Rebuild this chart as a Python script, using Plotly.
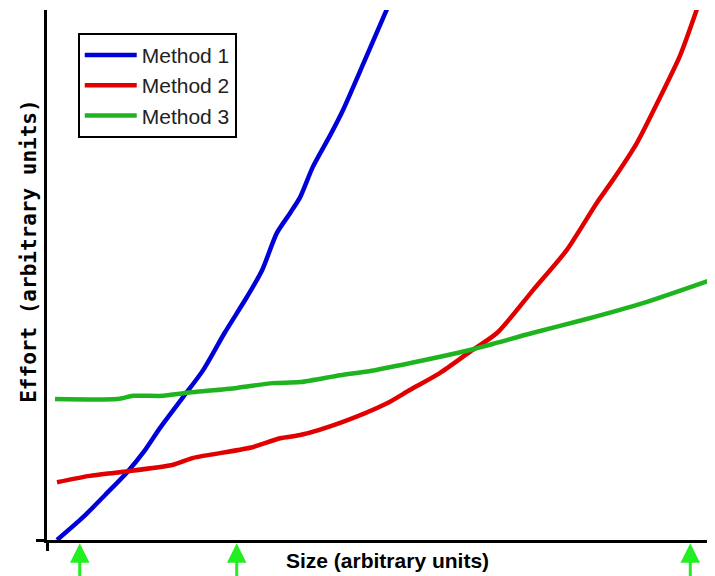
import plotly.graph_objects as go

# Data (arbitrary units)
m1_x = [1.5, 5.4, 8.7, 12.0, 14.7, 16.9, 20.4, 23.4, 26.6, 29.9, 32.2, 34.4, 36.4, 37.9, 39.8, 42.4, 44.3, 47.6, 50.9]
m1_y = [0.0, 4.3, 8.5, 12.8, 17.0, 21.1, 27.0, 32.1, 39.1, 45.8, 50.9, 57.9, 61.7, 64.7, 70.4, 76.4, 81.1, 90.6, 100.2]

m2_x = [1.5, 6.4, 10.9, 18.9, 21.9, 30.4, 34.9, 37.9, 44.3, 50.9, 54.3, 58.8, 63.3, 67.4, 72.8, 77.8, 82.3, 84.7, 88.3, 91.8, 94.8, 97.3]
m2_y = [10.9, 12.1, 12.8, 14.2, 15.5, 17.4, 19.2, 19.8, 22.3, 25.8, 28.3, 31.5, 35.5, 39.1, 47.2, 54.7, 63.6, 67.9, 74.9, 83.6, 91.5, 100.2]

m3_x = [1.2, 10.5, 12.9, 17.4, 20.4, 28.4, 33.8, 37.9, 43.9, 48.4, 57.8, 63.8, 72.8, 80.2, 89.2, 99.7]
m3_y = [26.6, 26.6, 27.2, 27.2, 27.7, 28.7, 29.6, 29.8, 31.1, 31.9, 34.3, 36.0, 39.1, 41.5, 44.7, 49.2]

series_names = ["Method 1", "Method 2", "Method 3"]
series_colors = ["#0000d8", "#e00000", "#1fb41f"]

marker_sizes = [4.9, 28.4, 96.3]   # green arrows under the x axis

x_title = "Size (arbitrary units)"
y_title = "Effort (arbitrary units)"

fig = go.Figure()
for name, xs, ys, col in zip(series_names, [m1_x, m2_x, m3_x], [m1_y, m2_y, m3_y], series_colors):
    fig.add_trace(go.Scatter(x=xs, y=ys, mode="lines", name=name, legendgroup=name,
                             line=dict(color=col, width=4.5, shape="spline", smoothing=0.7),
                             cliponaxis=True))

annotations = []
for xv in marker_sizes:
    annotations.append(dict(x=xv, xref="x", y=-0.006, yref="paper", text="", showarrow=True,
                            ax=0, ay=45, axref="pixel", ayref="pixel",
                            arrowhead=2, arrowsize=1.3, arrowwidth=3, arrowcolor="#22ee22",
                            standoff=0, startstandoff=0))
annotations.append(dict(x=-0.026, xref="paper", y=0.545, yref="paper", text=y_title,
                        textangle=-90, showarrow=False, xanchor="center", yanchor="middle",
                        font=dict(family="DejaVu Sans Mono", size=21, color="black", weight="bold")))
annotations.append(dict(x=0.51, xref="paper", y=-0.038, yref="paper", text=x_title,
                        showarrow=False, xanchor="center", yanchor="middle",
                        font=dict(family="Liberation Sans", size=21, color="black", weight="bold")))

# The page body has an 8px margin, so the figure is offset by 8px right and down.
fig.update_layout(
    width=715, height=576,
    margin=dict(l=39, r=8, t=2, b=44),
    paper_bgcolor="white", plot_bgcolor="white",
    showlegend=True,
    legend=dict(x=0.046, y=0.957, xanchor="left", yanchor="top",
                bgcolor="white", bordercolor="black", borderwidth=2,
                font=dict(family="Liberation Sans", size=21, color="#222222"),
                tracegroupgap=0, itemwidth=52),
    annotations=annotations,
    xaxis=dict(range=[0, 100], showline=True, linecolor="black", linewidth=3,
               showgrid=False, zeroline=False, tickvals=[0], ticks="outside",
               ticklen=8, tickwidth=3, tickcolor="black", showticklabels=False, fixedrange=True),
    yaxis=dict(range=[0, 100], showline=True, linecolor="black", linewidth=3,
               showgrid=False, zeroline=False, tickvals=[0], ticks="outside",
               ticklen=8, tickwidth=3, tickcolor="black", showticklabels=False, fixedrange=True),
)

fig.write_html("out.html")
